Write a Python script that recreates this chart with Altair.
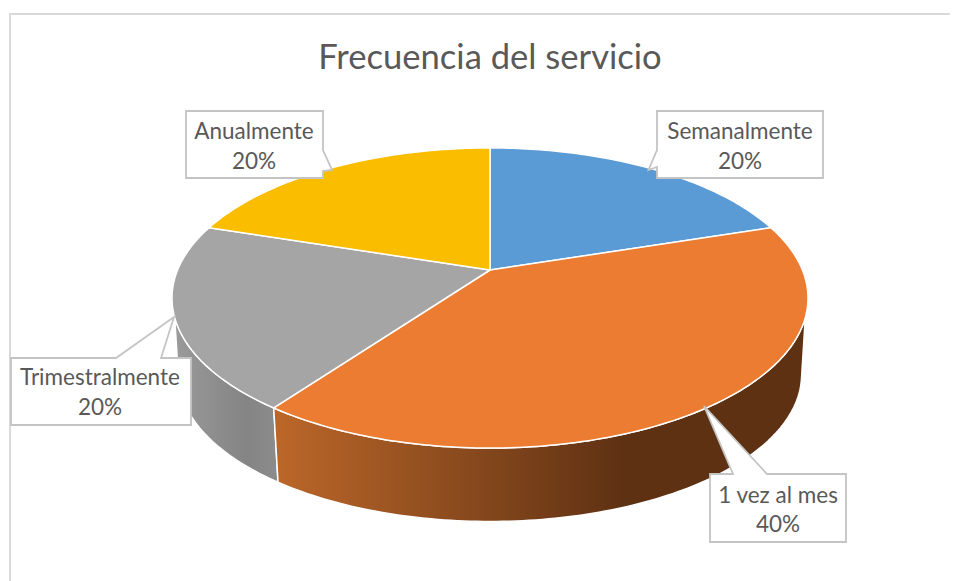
import math
import altair as alt
import pandas as pd

TITLE = "Frecuencia del servicio"
categories = ["Semanalmente", "1 vez al mes", "Trimestralmente", "Anualmente"]
values = [20, 40, 20, 20]
face_colors = ["#5B9BD5", "#EB7C31", "#A5A5A5", "#FBBD00"]

FONT = "Lato"
TEXT = "#595959"
LINE = "#C4C4C4"

# Perspective model of the tilted disc, in page pixels
CX, AY, A, B, K = 490, 270, 312.4, 144.8, 0.1867
LOW_S, LOW_AY = 0.98, 347


def project(deg, scale=1.0, ay=AY):
    t = math.radians(deg)
    d = 1 + K * math.cos(t)
    return CX + scale * A * math.sin(t) / d, ay - scale * B * math.cos(t) / d


def arc(a0, a1, scale=1.0, ay=AY):
    n = max(2, int(abs(a1 - a0)) + 1)
    return [project(a0 + (a1 - a0) * i / (n - 1), scale, ay) for i in range(n)]


X = alt.X("x:Q", axis=None, scale=alt.Scale(domain=[8, 950], range=[0, 942], nice=False))
Y = alt.Y("y:Q", axis=None, scale=alt.Scale(domain=[581, 8], range=[573, 0], nice=False))


def poly(points, **mark):
    df = pd.DataFrame([{"x": p[0], "y": p[1], "i": i} for i, p in enumerate(points)])
    return alt.Chart(df).mark_line(interpolate="linear-closed", **mark).encode(
        x=X, y=Y, order=alt.Order("i:Q")
    )


# Slice boundaries from the values
total = sum(values)
edges = [0]
for v in values:
    edges.append(edges[-1] + 360 * v / total)

layers = []

# Frame
layers.append(
    alt.Chart(pd.DataFrame([{"x": 10, "y": 581, "i": 0}, {"x": 10, "y": 14, "i": 1}, {"x": 950, "y": 14, "i": 2}]))
    .mark_line(stroke="#D9D9D9", strokeWidth=2)
    .encode(x=X, y=Y, order=alt.Order("i:Q"))
)

# Side walls
orange_wall = alt.Gradient(
    gradient="linear", x1=0, x2=1, y1=0, y2=0,
    stops=[
        alt.GradientStop(offset=0, color="#BC6729"),
        alt.GradientStop(offset=0.66, color="#5E3113"),
        alt.GradientStop(offset=1, color="#5E3113"),
    ],
)
grey_wall = alt.Gradient(
    gradient="linear", x1=0, x2=1, y1=0, y2=0,
    stops=[
        alt.GradientStop(offset=0, color="#9A9A9A"),
        alt.GradientStop(offset=0.7, color="#848484"),
        alt.GradientStop(offset=1, color="#8C8C8C"),
    ],
)
layers.append(
    poly(
        arc(edges[2], 252) + arc(257, edges[2], LOW_S, LOW_AY),
        fill=grey_wall, stroke="white", strokeWidth=1.5,
    )
)
layers.append(
    poly(
        arc(108, edges[2]) + arc(edges[2], 103, LOW_S, LOW_AY),
        fill=orange_wall, stroke="white", strokeWidth=1.5,
    )
)

# Top faces
for i, color in enumerate(face_colors):
    layers.append(
        poly([(CX, AY)] + arc(edges[i], edges[i + 1]), fill=color, stroke="white", strokeWidth=1.5)
    )

# Callouts
callouts = [
    [(657, 111), (823, 111), (823, 178), (657, 178), (657, 167), (648.5, 170), (657, 150)],
    [(710, 474), (733, 474), (704, 406), (767, 474), (846, 474), (846, 542), (710, 542)],
    [(11, 358), (116, 358), (174, 317), (161, 358), (191, 358), (191, 425), (11, 425)],
    [(186, 111), (323, 111), (323, 150), (332, 170), (323, 171), (323, 178), (186, 178)],
]
for c in callouts:
    layers.append(poly(c, fill="white", stroke=LINE, strokeWidth=1.8))

# Labels
label_pos = [(740, 132, 162), (778, 496, 525), (100, 378, 408), (254, 132, 162)]
rows = []
for name, v, (lx, y1, y2) in zip(categories, values, label_pos):
    rows.append({"x": lx, "y": y1, "t": name})
    rows.append({"x": lx, "y": y2, "t": f"{round(100 * v / total)}%"})
layers.append(
    alt.Chart(pd.DataFrame(rows))
    .mark_text(font=FONT, fontSize=22.5, color=TEXT, align="center", baseline="middle")
    .encode(x=X, y=Y, text="t:N")
)
layers.append(
    alt.Chart(pd.DataFrame([{"x": 490, "y": 59, "t": TITLE}]))
    .mark_text(font=FONT, fontSize=34.6, color=TEXT, align="center", baseline="middle")
    .encode(x=X, y=Y, text="t:N")
)

chart = (
    alt.layer(*layers)
    .properties(width=942, height=573, padding=0, autosize=alt.AutoSizeParams(type="none"), background="white")
    .configure_view(stroke=None)
)
chart.save("out.html", embed_options={"renderer": "svg", "actions": False})
